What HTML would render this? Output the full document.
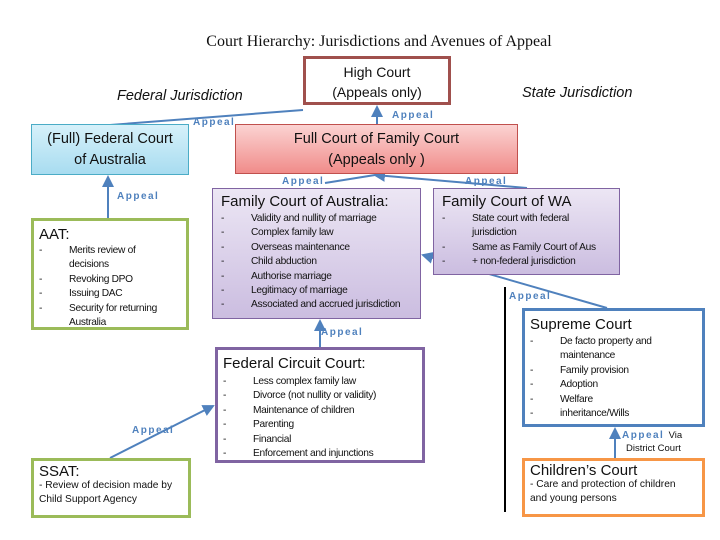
<!DOCTYPE html>
<html><head><meta charset="utf-8"><style>
body{margin:0;width:720px;height:540px;background:#fff;position:relative;overflow:hidden;font-family:"Liberation Sans",sans-serif;color:#111}
.b{position:absolute;box-sizing:border-box}
.t{position:absolute;white-space:nowrap}
ul{list-style:none;margin:0;padding:0}
li{position:relative;padding-left:30px;font-size:10.2px;line-height:14.4px;letter-spacing:-0.3px}
li:before{content:"-";position:absolute;left:0}
.ap{position:absolute;font-size:10px;font-weight:bold;color:#4f81bd;letter-spacing:1.5px}
h3{margin:0;font-weight:normal;font-size:15px}
</style></head><body>
<div class="t" style="left:0;width:758px;text-align:center;top:33px;font-family:'Liberation Serif',serif;font-size:16px">Court Hierarchy: Jurisdictions and Avenues of Appeal</div>
<div class="t" style="left:117px;top:88px;font-style:italic;font-size:14.5px">Federal Jurisdiction</div>
<div class="t" style="left:522px;top:85px;font-style:italic;font-size:14.5px">State Jurisdiction</div>

<svg class="b" style="left:0;top:0" width="720" height="540">
<defs><marker id="a" markerWidth="6" markerHeight="6" refX="5" refY="3" orient="auto"><path d="M0,0 L6,3 L0,6 z" fill="#4f81bd"/></marker></defs>
<g stroke="#4f81bd" stroke-width="2" fill="none">
<line x1="110" y1="125" x2="303" y2="110"/>
<line x1="377" y1="124" x2="377" y2="107" marker-end="url(#a)"/>
<line x1="325" y1="183" x2="375" y2="175"/>
<line x1="527" y1="188" x2="375" y2="175" marker-end="url(#a)"/>
<line x1="607" y1="308" x2="423" y2="255" marker-end="url(#a)"/>
<line x1="320" y1="347" x2="320" y2="321" marker-end="url(#a)"/>
<line x1="108" y1="218" x2="108" y2="177" marker-end="url(#a)"/>
<line x1="110" y1="458" x2="213" y2="406" marker-end="url(#a)"/>
<line x1="615" y1="458" x2="615" y2="429" marker-end="url(#a)"/>
</g>
<line x1="505" y1="287" x2="505" y2="512" stroke="#000" stroke-width="2"/>
</svg>

<div class="b" style="left:303px;top:56px;width:148px;height:49px;border:3px solid #a0504d;background:#fff;text-align:center;font-size:14px;line-height:20px;padding-top:3px">High Court<br>(Appeals only)</div>
<div class="b" style="left:31px;top:124px;width:158px;height:51px;border:1px solid #4bacc6;background:linear-gradient(#d6f1fa,#a8dcf0);text-align:center;font-size:14.5px;line-height:21px;padding-top:4px">(Full) Federal Court<br>of Australia</div>
<div class="b" style="left:235px;top:124px;width:283px;height:50px;border:1px solid #c0504d;background:linear-gradient(#fbd3d2,#f08c8a);text-align:center;font-size:14.5px;line-height:21px;padding-top:4px">Full Court of Family Court<br>(Appeals only )</div>

<div class="b" style="left:212px;top:188px;width:209px;height:131px;border:1px solid #8064a2;background:linear-gradient(#ece6f4,#cbbde0);padding:4px 0 0 8px"><h3>Family Court of Australia:</h3><ul style="margin-top:2px"><li>Validity and nullity of marriage</li><li>Complex family law</li><li>Overseas maintenance</li><li>Child abduction</li><li>Authorise marriage</li><li>Legitimacy of marriage</li><li>Associated and accrued jurisdiction</li></ul></div>
<div class="b" style="left:433px;top:188px;width:187px;height:87px;border:1px solid #8064a2;background:linear-gradient(#ece6f4,#cbbde0);padding:4px 0 0 8px"><h3>Family Court of WA</h3><ul style="margin-top:2px;width:170px"><li>State court with federal jurisdiction</li><li>Same as Family Court of Aus</li><li>+ non-federal jurisdiction</li></ul></div>

<div class="b" style="left:31px;top:218px;width:158px;height:112px;border:3px solid #9bbb59;background:#fff;padding:5px 0 0 5px"><h3>AAT:</h3><ul style="margin-top:1px;width:130px"><li>Merits review of decisions</li><li>Revoking DPO</li><li>Issuing DAC</li><li>Security for returning Australia</li></ul></div>

<div class="b" style="left:215px;top:347px;width:210px;height:116px;border:3px solid #8064a2;background:#fff;padding:5px 0 0 5px"><h3>Federal Circuit Court:</h3><ul style="margin-top:3px"><li>Less complex family law</li><li>Divorce (not nullity or validity)</li><li>Maintenance of children</li><li>Parenting</li><li>Financial</li><li>Enforcement and injunctions</li></ul></div>

<div class="b" style="left:31px;top:458px;width:160px;height:60px;border:3px solid #9bbb59;background:#fff;padding:4px 0 0 5px;font-size:10.2px;line-height:14px"><h3>SSAT:</h3>- Review of decision made by<br>Child Support Agency</div>

<div class="b" style="left:522px;top:308px;width:183px;height:119px;border:3px solid #4f81bd;background:#fff;padding:5px 0 0 5px"><h3>Supreme Court</h3><ul style="margin-top:2px;width:150px"><li>De facto property and maintenance</li><li>Family provision</li><li>Adoption</li><li>Welfare</li><li>inheritance/Wills</li></ul></div>

<div class="b" style="left:522px;top:458px;width:183px;height:59px;border:3px solid #f79646;background:#fff;padding:3px 0 0 5px;font-size:10.2px;line-height:14px"><h3>Children’s Court</h3>- Care and protection of children<br>and young persons</div>

<div class="ap" style="left:193px;top:117px">Appeal</div>
<div class="ap" style="left:392px;top:110px">Appeal</div>
<div class="ap" style="left:282px;top:176px">Appeal</div>
<div class="ap" style="left:465px;top:176px">Appeal</div>
<div class="ap" style="left:117px;top:191px">Appeal</div>
<div class="ap" style="left:509px;top:291px">Appeal</div>
<div class="ap" style="left:321px;top:327px">Appeal</div>
<div class="ap" style="left:132px;top:425px">Appeal</div>
<div class="ap" style="left:622px;top:430px">Appeal <span style="color:#111;font-weight:normal;letter-spacing:0;font-size:9.5px">Via</span></div>
<div class="t" style="left:626px;top:443px;font-size:9.5px">District Court</div>
</body></html>
